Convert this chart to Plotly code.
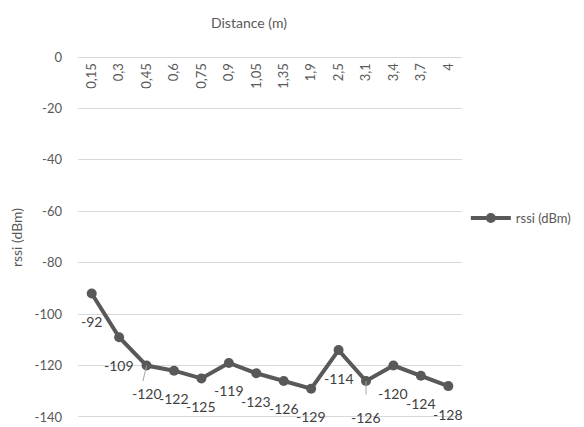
import plotly.graph_objects as go

distances = ["0,15", "0,3", "0,45", "0,6", "0,75", "0,9", "1,05", "1,35", "1,9", "2,5", "3,1", "3,4", "3,7", "4"]
rssi = [-92, -109, -120, -122, -125, -119, -123, -126, -129, -114, -126, -120, -124, -128]
y_ticks = [0, -20, -40, -60, -80, -100, -120, -140]

FONT = "Lato"
GREY = "#595959"

# page has an 8px body margin; figure is sized to fit the 584x427 viewport
W, H = 576, 419
L, T = 70, 49
PLOT_W, PLOT_H = 384, 361

# label placement tweaks (Excel moved two labels and drew leader lines)
label_shift = {10: -37}
leaders = {2: (-4, 17), 10: (0, 15)}

fig = go.Figure()
fig.add_trace(go.Scatter(
    x=distances, y=rssi, mode="lines+markers", name="rssi (dBm)",
    line=dict(color=GREY, width=4),
    marker=dict(color=GREY, size=10),
))

for i, v in enumerate(rssi):
    if i in leaders:
        ax, ay = leaders[i]
        fig.add_annotation(x=i, y=v, text="", showarrow=True, arrowhead=0,
                           arrowwidth=1, arrowcolor="#a6a6a6", ax=ax, ay=ay, standoff=0)
    fig.add_annotation(x=i, y=v, text=str(v), showarrow=False,
                       yshift=label_shift.get(i, -28),
                       font=dict(family=FONT, size=14, color="#404040"))

fig.add_annotation(xref="paper", yref="paper", x=(249 - 78) / PLOT_W, y=1 + (57 - 22) / PLOT_H,
                   xanchor="center", yanchor="middle",
                   text="Distance (m)", showarrow=False,
                   font=dict(family=FONT, size=14, color=GREY))

fig.update_layout(
    width=W, height=H,
    margin=dict(l=L, r=W - L - PLOT_W, t=T, b=H - T - PLOT_H, autoexpand=False),
    paper_bgcolor="white", plot_bgcolor="white",
    font=dict(family=FONT, size=13, color=GREY),
    showlegend=True,
    legend=dict(x=1.01, y=0.554, xanchor="left", yanchor="middle",
                font=dict(family=FONT, size=13, color=GREY), itemwidth=40),
    xaxis=dict(type="category", side="bottom", anchor="free", position=1.0,
               tickangle=-90, showgrid=False, showline=True, linecolor="#d9d9d9",
               linewidth=1, ticks="", automargin=False,
               tickfont=dict(family=FONT, size=13, color=GREY),
               range=[-0.5, len(distances) - 0.5]),
    yaxis=dict(range=[-140.4, 0], tickvals=y_ticks, ticktext=[str(t) for t in y_ticks],
               showgrid=True, gridcolor="#d9d9d9", gridwidth=1, zeroline=False,
               ticks="", ticklabelstandoff=15, automargin=False,
               title=dict(text="rssi (dBm)", font=dict(family=FONT, size=14, color=GREY), standoff=16),
               tickfont=dict(family=FONT, size=13, color=GREY)),
)

fig.write_html("out.html")
